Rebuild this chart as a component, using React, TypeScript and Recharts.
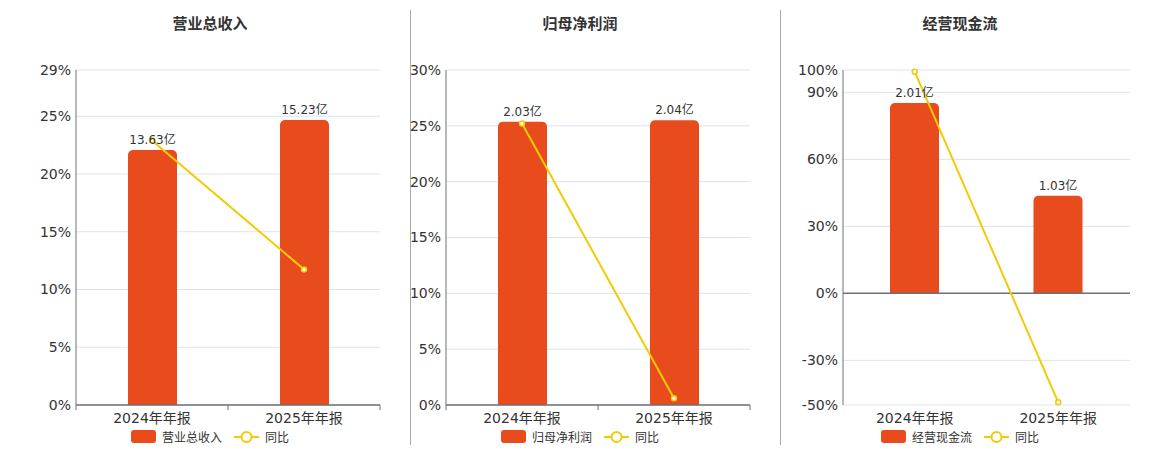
import { ComposedChart, Bar, Line, XAxis, YAxis, CartesianGrid, LabelList, ReferenceLine } from "recharts";

const categories = ["2024年年报", "2025年年报"];

const revenue = [13.63, 15.23];
const revenueYoy = [22.9, 11.74];
const profit = [2.03, 2.04];
const profitYoy = [25.2, 0.6];
const cashflow = [2.01, 1.03];
const cashflowYoy = [99.2, -48.8];

const revenueTicks = [0, 5, 10, 15, 20, 25, 29];
const profitTicks = [0, 5, 10, 15, 20, 25, 30];
const cashflowTicks = [-50, -30, 0, 30, 60, 90, 100];

const colors = {
  bar: "#E84B1C",
  line: "#F2CB05",
  grid: "#DDE3F0",
  axis: "#6E7079",
  text: "#333333",
  divider: "#AAAAAA",
};

const font = "'DejaVu Sans', 'Noto Sans CJK SC', sans-serif";

function buildRows(values: number[], yoy: number[]) {
  return categories.map((name, i) => ({ name, value: values[i], yoy: yoy[i] }));
}

function CategoryTick({ x, y, payload, index, band, marks }: any) {
  const axisY = y - 8;
  return (
    <g>
      {marks && (
        <>
          <line x1={x + band / 2} x2={x + band / 2} y1={axisY} y2={axisY + 5} stroke={colors.axis} />
          {index === 0 && <line x1={x - band / 2} x2={x - band / 2} y1={axisY} y2={axisY + 5} stroke={colors.axis} />}
        </>
      )}
      <text x={x} y={y} dy="0.71em" textAnchor="middle" fill={colors.text} fontSize={14} fontFamily={font}>
        {payload.value}
      </text>
    </g>
  );
}

type PanelProps = {
  title: string;
  barName: string;
  values: number[];
  yoy: number[];
  ticks: number[];
  barDomain: [number, number];
  left: number;
  width: number;
  axisWidth: number;
  rightMargin: number;
  center: number;
  zeroLine?: boolean;
};

function Panel({ title, barName, values, yoy, ticks, barDomain, left, width, axisWidth, rightMargin, center, zeroLine }: PanelProps) {
  const rows = buildRows(values, yoy);
  const band = (width - axisWidth - rightMargin) / categories.length;
  return (
    <>
      <div
        style={{
          position: "absolute",
          left: center - 100,
          width: 200,
          top: 12,
          textAlign: "center",
          fontWeight: "bold",
          fontSize: 15,
          color: colors.text,
          fontFamily: font,
        }}
      >
        {title}
      </div>
      <div style={{ position: "absolute", left, top: 0 }}>
        <ComposedChart width={width} height={450} data={rows} margin={{ top: 70, right: rightMargin, bottom: 15, left: 0 }}>
          <CartesianGrid stroke={colors.grid} vertical={false} yAxisId="pct" />
          <XAxis
            dataKey="name"
            height={30}
            axisLine={zeroLine ? false : { stroke: colors.axis, strokeWidth: 1.5 }}
            tickLine={false}
            tickSize={6}
            tickMargin={2}
            interval={0}
            tick={<CategoryTick band={band} marks={!zeroLine} />}
          />
          <YAxis
            yAxisId="pct"
            width={axisWidth}
            domain={[ticks[0], ticks[ticks.length - 1]]}
            ticks={ticks}
            interval={0}
            tickFormatter={(v: number) => `${v}%`}
            axisLine={{ stroke: colors.axis }}
            tickLine={false}
            tickSize={3}
            tick={{ fill: colors.text, fontSize: 14, fontFamily: font }}
          />
          <YAxis yAxisId="bar" hide orientation="right" width={0} domain={barDomain} />
          {zeroLine && <ReferenceLine yAxisId="pct" y={0} stroke={colors.axis} strokeWidth={1.5} />}
          <Bar yAxisId="bar" dataKey="value" name={barName} fill={colors.bar} barSize={49} radius={[5, 5, 0, 0]} isAnimationActive={false}>
            <LabelList
              dataKey="value"
              position="top"
              offset={6}
              formatter={(v: any) => `${Number(v).toFixed(2)}亿`}
              fill={colors.text}
              fontSize={12}
              fontFamily={font}
            />
          </Bar>
          <Line
            yAxisId="pct"
            dataKey="yoy"
            name="同比"
            stroke={colors.line}
            strokeWidth={2}
            dot={{ r: 2.5, fill: "#ffffff", stroke: colors.line, strokeWidth: 1.5 }}
            isAnimationActive={false}
          />
        </ComposedChart>
      </div>
      <div
        style={{
          position: "absolute",
          left: center - 100,
          width: 200,
          top: 428,
          display: "flex",
          justifyContent: "center",
          alignItems: "center",
          fontSize: 12,
          color: colors.text,
          fontFamily: font,
        }}
      >
        <span style={{ width: 25, height: 13, borderRadius: 3, background: colors.bar, marginRight: 6 }} />
        <span>{barName}</span>
        <svg width={25} height={14} style={{ marginLeft: 12, marginRight: 6 }}>
          <line x1={0} x2={25} y1={7} y2={7} stroke={colors.line} strokeWidth={2} />
          <circle cx={12.5} cy={7} r={5} fill="#ffffff" stroke={colors.line} strokeWidth={2} />
        </svg>
        <span>同比</span>
      </div>
    </>
  );
}

export default function App() {
  return (
    <div style={{ position: "relative", width: 1160, height: 450, background: "#ffffff", overflow: "hidden" }}>
      <style>{`body{margin:0}`}</style>
      <Panel
        title="营业总收入"
        barName="营业总收入"
        values={revenue}
        yoy={revenueYoy}
        ticks={revenueTicks}
        barDomain={[0, 17.9]}
        left={0}
        width={400}
        axisWidth={76}
        rightMargin={20}
        center={210}
      />
      <div style={{ position: "absolute", left: 410, top: 10, width: 1, height: 435, background: colors.divider }} />
      <Panel
        title="归母净利润"
        barName="归母净利润"
        values={profit}
        yoy={profitYoy}
        ticks={profitTicks}
        barDomain={[0, 2.4]}
        left={410}
        width={360}
        axisWidth={36}
        rightMargin={20}
        center={580}
      />
      <div style={{ position: "absolute", left: 780, top: 10, width: 1, height: 435, background: colors.divider }} />
      <Panel
        title="经营现金流"
        barName="经营现金流"
        values={cashflow}
        yoy={cashflowYoy}
        ticks={cashflowTicks}
        barDomain={[-1.18, 2.36]}
        left={781}
        width={379}
        axisWidth={62}
        rightMargin={30}
        center={960}
        zeroLine
      />
    </div>
  );
}
